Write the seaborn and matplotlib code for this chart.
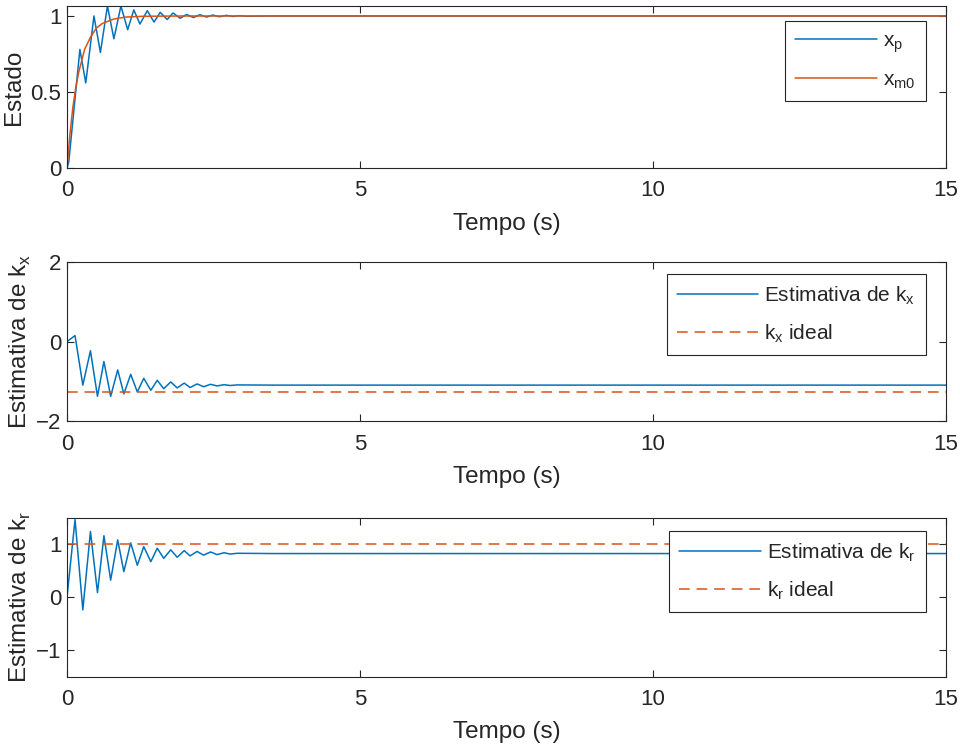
import numpy as np
import pandas as pd
import matplotlib
matplotlib.use("Agg")
import matplotlib.pyplot as plt
import seaborn as sns

# --- values (peaks / troughs of the responses) ---
t_xp = [0, 0.03, 0.22, 0.32, 0.46, 0.57, 0.69, 0.80, 0.92, 1.035, 1.14, 1.245,
        1.37, 1.485, 1.59, 1.71, 1.81, 1.93, 2.04, 2.155, 2.27, 2.38, 2.49, 2.6,
        2.72, 2.83, 2.95, 3.06, 3.5, 15]
xp = [0, 0.04, 0.78, 0.56, 1.00, 0.76, 1.066, 0.85, 1.066, 0.91, 1.04, 0.947,
      1.035, 0.96, 1.024, 0.977, 1.02, 0.985, 1.01, 0.99, 1.008, 0.993, 1.006,
      0.995, 1.004, 0.997, 1.002, 0.998, 1.0, 1.0]

t_xm = [0, 0.05, 0.1, 0.15, 0.2, 0.3, 0.4, 0.5, 0.6, 0.8, 1.0, 1.3, 1.6, 2.0,
        2.5, 3.0, 15]
xm0 = [0, 0.22, 0.40, 0.53, 0.63, 0.78, 0.86, 0.92, 0.95, 0.98, 0.993, 0.998,
       0.999, 1.0, 1.0, 1.0, 1.0]

t_k = [0, 0.137, 0.27, 0.40, 0.52, 0.63, 0.745, 0.865, 0.97, 1.087, 1.2, 1.31,
       1.43, 1.54, 1.65, 1.77, 1.88, 2.0, 2.1, 2.22, 2.33, 2.45, 2.56, 2.68,
       2.79, 2.9, 3.5, 15]
kx = [0, 0.15, -1.09, -0.23, -1.37, -0.50, -1.37, -0.71, -1.31, -0.82, -1.26,
      -0.92, -1.22, -0.97, -1.18, -1.01, -1.16, -1.04, -1.15, -1.06, -1.13,
      -1.07, -1.11, -1.08, -1.10, -1.085, -1.09, -1.09]
kr = [0, 1.46, -0.24, 1.235, 0.086, 1.156, 0.32, 1.077, 0.48, 1.02, 0.60, 0.95,
      0.667, 0.92, 0.73, 0.89, 0.75, 0.875, 0.776, 0.86, 0.79, 0.85, 0.80,
      0.835, 0.81, 0.825, 0.82, 0.82]

kx_ideal = -1.26
kr_ideal = 1.0

blue = "#0072BD"
orange = "#D95319"

sns.set_style("ticks")
plt.rcParams['font.family'] = ['Liberation Sans', 'DejaVu Sans']
plt.rcParams['mathtext.fontset'] = 'custom'
plt.rcParams['mathtext.rm'] = 'Liberation Sans'
plt.rcParams['axes.edgecolor'] = '#262626'
plt.rcParams['xtick.color'] = '#262626'
plt.rcParams['ytick.color'] = '#262626'
plt.rcParams['text.color'] = '#262626'
plt.rcParams['axes.labelcolor'] = '#262626'

fig = plt.figure(figsize=(9.6, 7.44), dpi=100)
ax1 = fig.add_axes([0.0698, 0.7742, 0.9156, 0.2178])
ax2 = fig.add_axes([0.0698, 0.4335, 0.9156, 0.2148])
ax3 = fig.add_axes([0.0698, 0.0904, 0.9156, 0.2134])

df1 = pd.DataFrame({"t": t_xp, "v": xp})
df2 = pd.DataFrame({"t": t_xm, "v": xm0})
sns.lineplot(data=df1, x="t", y="v", ax=ax1, color=blue, lw=1.1,
             label=r"x$_\mathregular{p}$", sort=False)
sns.lineplot(data=df2, x="t", y="v", ax=ax1, color=orange, lw=1.1,
             label=r"x$_\mathregular{m0}$", sort=False)

dfk = pd.DataFrame({"t": t_k, "kx": kx, "kr": kr})
sns.lineplot(data=dfk, x="t", y="kx", ax=ax2, color=blue, lw=1.1,
             label=r"Estimativa de k$_\mathregular{x}$", sort=False)
ax2.axhline(kx_ideal, color=orange, lw=1.1, ls=(0, (7, 4.5)),
            label=r"k$_\mathregular{x}$ ideal")

sns.lineplot(data=dfk, x="t", y="kr", ax=ax3, color=blue, lw=1.1,
             label=r"Estimativa de k$_\mathregular{r}$", sort=False)
ax3.axhline(kr_ideal, color=orange, lw=1.1, ls=(0, (7, 4.5)),
            label=r"k$_\mathregular{r}$ ideal")

ax1.set_ylim(0, 1.066)
ax1.set_yticks([0, 0.5, 1])
ax1.set_yticklabels(["0", "0.5", "1"])
ax1.set_ylabel("Estado", fontsize=17.5, labelpad=4)

ax2.set_ylim(-2, 2)
ax2.set_yticks([-2, 0, 2])
ax2.set_ylabel(r"Estimativa de k$_\mathregular{x}$", fontsize=17.5, labelpad=2)

ax3.set_ylim(-1.5, 1.49)
ax3.set_yticks([-1, 0, 1])
ax3.set_ylabel(r"Estimativa de k$_\mathregular{r}$", fontsize=17.5, labelpad=2)

anchors = [(0.977, 0.907), (0.977, 0.924), (0.977, 0.919)]
for ax, anc in zip([ax1, ax2, ax3], anchors):
    ax.set_xlim(0, 15)
    ax.set_xticks([0, 5, 10, 15])
    ax.set_xlabel("Tempo (s)", fontsize=17.5, labelpad=8)
    ax.tick_params(direction="in", top=True, right=True, labelsize=16,
                   length=5, width=0.8, pad=4)
    ax.tick_params(axis="x", pad=9)
    for s in ax.spines.values():
        s.set_linewidth(0.8)
    leg = ax.legend(loc="upper right", bbox_to_anchor=anc, borderaxespad=0,
                    fontsize=15, handlelength=3.9, handletextpad=0.3,
                    fancybox=False, framealpha=1, edgecolor="#262626",
                    labelspacing=0.73, borderpad=0.5)
    leg.get_frame().set_linewidth(0.8)

fig.savefig("out.png", dpi=100)
